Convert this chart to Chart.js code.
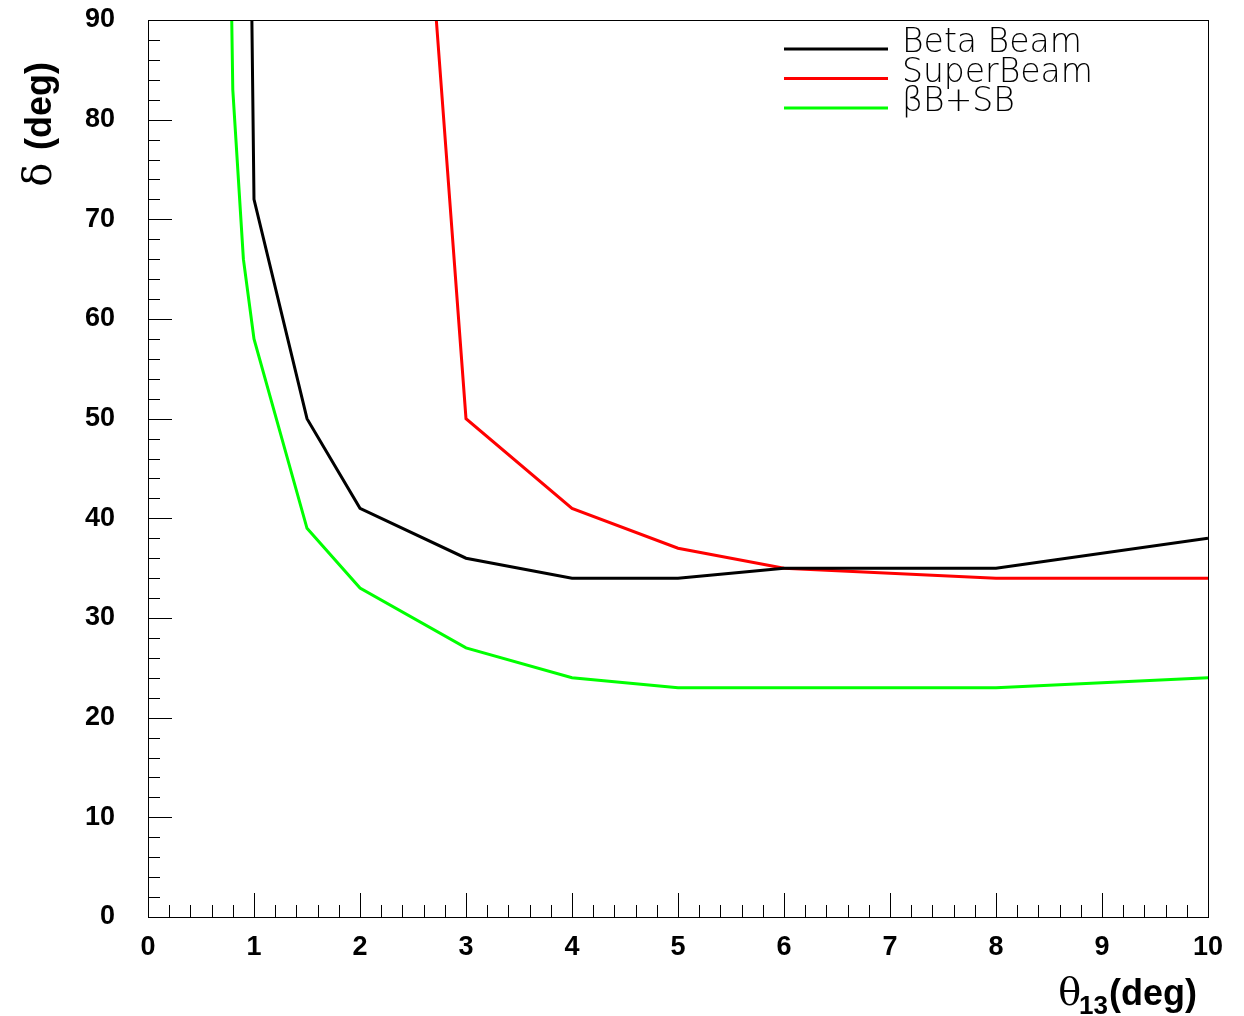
<!DOCTYPE html>
<html>
<head>
<meta charset="utf-8">
<script src="https://cdn.jsdelivr.net/npm/chart.js@4.4.1/dist/chart.umd.min.js"></script>
<style>
  html, body { margin: 0; padding: 0; background: #fff; }
  #wrap { width: 1244px; height: 1016px; position: relative; }
</style>
</head>
<body>
<div id="wrap"><canvas id="chart" width="1244" height="1016"></canvas></div>
<script>
// theta13 (deg) vs delta (deg) sensitivity curves
const betaTheta  = [0.98, 1, 1.5, 2, 3, 4, 5, 6, 8, 10];
const betaDelta  = [90, 72, 50, 41, 36, 34, 34, 35, 35, 38];
const superTheta = [2.72, 3, 4, 5, 6, 8, 10];
const superDelta = [90, 50, 41, 37, 35, 34, 34];
const comboTheta = [0.79, 0.8, 0.9, 1, 1.5, 2, 3, 4, 5, 8, 10];
const comboDelta = [90, 83, 66, 58, 39, 33, 27, 24, 23, 23, 24];
const seriesNames = ['Beta Beam', 'SuperBeam', 'βB+SB'];
const seriesColors = ['#000000', '#ff0000', '#00ff00'];

const xTicks = [0, 1, 2, 3, 4, 5, 6, 7, 8, 9, 10];
const yTicks = [0, 10, 20, 30, 40, 50, 60, 70, 80, 90];

const pts = (xs, ys) => xs.map((x, i) => ({ x: x, y: ys[i] }));
const labelFont = { family: '"Liberation Sans", Arial, sans-serif', size: 27, weight: 'bold' };

// ROOT-style inward ticks, frame, titles and legend
const rootFrame = {
  id: 'rootFrame',
  afterDraw(chart) {
    const { ctx, chartArea: a, scales: { x, y } } = chart;
    ctx.save();
    ctx.strokeStyle = '#000';
    ctx.lineWidth = 1;
    ctx.strokeRect(a.left + 0.5, a.top + 0.5, a.right - a.left, a.bottom - a.top);
    ctx.beginPath();
    for (let i = 0; i <= 50; i++) {
      const px = Math.round(x.getPixelForValue(i * 0.2)) + 0.5;
      const len = i % 5 === 0 ? 24 : 12;
      ctx.moveTo(px, a.bottom); ctx.lineTo(px, a.bottom - len);
    }
    for (let i = 0; i <= 45; i++) {
      const py = Math.round(y.getPixelForValue(i * 2)) + 0.5;
      const len = i % 5 === 0 ? 24 : 12;
      ctx.moveTo(a.left, py); ctx.lineTo(a.left + len, py);
    }
    ctx.stroke();

    // x title: theta_13(deg), right aligned
    ctx.fillStyle = '#000';
    ctx.textBaseline = 'alphabetic';
    ctx.textAlign = 'left';
    const base = 1005, right = 1197;
    ctx.font = 'bold 36px "Liberation Sans", Arial, sans-serif';
    const degW = ctx.measureText('(deg)').width;
    ctx.fillText('(deg)', right - degW, base);
    ctx.font = 'bold 26px "Liberation Sans", Arial, sans-serif';
    const subW = ctx.measureText('13').width;
    ctx.fillText('13', right - degW - subW - 1, base + 9);
    ctx.font = '38px "DejaVu Serif", serif';
    const thW = ctx.measureText('θ').width;
    ctx.fillText('θ', right - degW - subW - thW + 1, base);

    // y title: delta (deg), rotated, aligned to top
    ctx.save();
    ctx.translate(51, 62);
    ctx.rotate(-Math.PI / 2);
    ctx.textAlign = 'right';
    ctx.font = 'bold 36px "Liberation Sans", Arial, sans-serif';
    const yDegW = ctx.measureText('(deg)').width;
    ctx.fillText('(deg)', 0, 0);
    ctx.font = '40px "DejaVu Serif", serif';
    ctx.fillText('δ ', -yDegW, 0);
    ctx.restore();

    // legend
    ctx.font = '200 33px "DejaVu Sans", sans-serif';
    ctx.textAlign = 'left';
    chart.data.datasets.forEach((ds, i) => {
      const ly = 49 + i * 29.5;
      ctx.strokeStyle = ds.borderColor;
      ctx.lineWidth = 3;
      ctx.beginPath();
      ctx.moveTo(784, ly); ctx.lineTo(888, ly);
      ctx.stroke();
      ctx.fillStyle = '#000';
      ctx.fillText(ds.label, 902, ly + 3);
    });
    ctx.restore();
  }
};

new Chart(document.getElementById('chart'), {
  type: 'line',
  data: {
    datasets: [
      { label: seriesNames[0], data: pts(betaTheta, betaDelta), borderColor: seriesColors[0] },
      { label: seriesNames[1], data: pts(superTheta, superDelta), borderColor: seriesColors[1] },
      { label: seriesNames[2], data: pts(comboTheta, comboDelta), borderColor: seriesColors[2] }
    ].map(d => Object.assign(d, { borderWidth: 3, pointRadius: 0, tension: 0, fill: false }))
  },
  options: {
    responsive: false,
    animation: false,
    layout: { padding: { left: 0, top: 20, right: 36, bottom: 0 } },
    plugins: { legend: { display: false }, tooltip: { enabled: false } },
    scales: {
      x: {
        type: 'linear', min: 0, max: 10,
        afterBuildTicks: s => { s.ticks = xTicks.map(v => ({ value: v })); },
        afterFit: s => { s.height = 99; s.paddingLeft = 0; s.paddingRight = 0; },
        grid: { display: false },
        border: { display: false },
        ticks: { color: '#000', padding: 6, maxRotation: 0, font: labelFont }
      },
      y: {
        type: 'linear', min: 0, max: 90,
        afterBuildTicks: s => { s.ticks = yTicks.map(v => ({ value: v })); },
        afterFit: s => { s.width = 148; s.paddingTop = 0; s.paddingBottom = 0; },
        grid: { display: false },
        border: { display: false },
        ticks: { color: '#000', padding: 25, font: labelFont }
      }
    }
  },
  plugins: [rootFrame]
});
</script>
</body>
</html>
